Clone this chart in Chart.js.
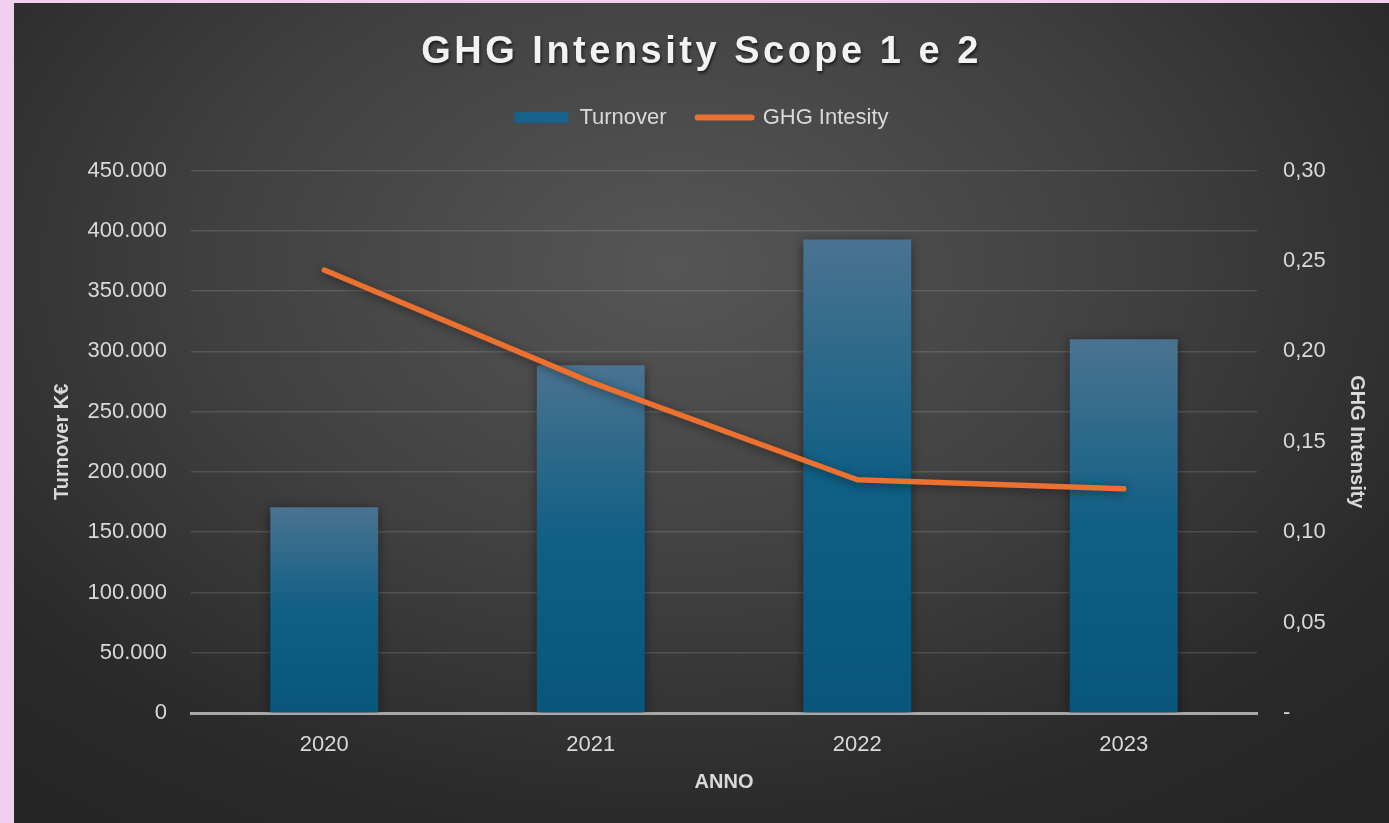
<!DOCTYPE html>
<html>
<head>
<meta charset="utf-8">
<script src="https://cdn.jsdelivr.net/npm/chart.js@4"></script>
<style>
    html, body { margin: 0; padding: 0; background: #f0d0ee; }
    #wrap {
        position: absolute; left: 14px; top: 3px; width: 1375px; height: 820px;
        background: radial-gradient(ellipse 75% 85% at 48% 32%, #565656 0%, #404040 45%, #2a2a2a 80%, #252525 100%);
    }
    canvas { display: block; }
</style>
</head>
<body>
<div id="wrap"><canvas id="chart" width="1375" height="820"></canvas></div>
<script>
const years = ['2020', '2021', '2022', '2023']
const turnover = [170700, 288500, 392800, 310000]
const ghgIntensity = [0.245, 0.183, 0.129, 0.124]

const leftTicks = [0, 50000, 100000, 150000, 200000, 250000, 300000, 350000, 400000, 450000]
const rightTicks = [0, 0.05, 0.10, 0.15, 0.20, 0.25, 0.30]

const LINE_COLOR = '#ec7030'
const TEXT_COLOR = '#d9d9d9'

Chart.defaults.font.family = "'Liberation Sans', Arial, sans-serif"
Chart.defaults.color = TEXT_COLOR

function barGradient(context) {
    const chart = context.chart
    const { chartArea, scales } = chart
    if (!chartArea || context.type !== 'data') return '#0b5b80'
    const top = scales.y.getPixelForValue(context.raw)
    const bottom = scales.y.getPixelForValue(0)
    const g = chart.ctx.createLinearGradient(0, top, 0, bottom)
    g.addColorStop(0, '#4a7390')
    g.addColorStop(0.5, '#105f85')
    g.addColorStop(1, '#08567c')
    return g
}

function thousands(v) {
    return String(v).replace(/\B(?=(\d{3})+(?!\d))/g, '.')
}

// title with letter spacing and a soft drop shadow
const titleStyle = {
    id: 'titleStyle',
    afterInit(chart) {
        const block = chart.titleBlock
        const draw = block.draw
        block.draw = function () {
            const ctx = this.ctx
            ctx.save()
            ctx.letterSpacing = '3.5px'
            ctx.shadowColor = 'rgba(0,0,0,0.65)'
            ctx.shadowOffsetX = 1
            ctx.shadowOffsetY = 2
            ctx.shadowBlur = 3
            draw.call(this)
            ctx.restore()
        }
    }
}

const markShadow = {
    id: 'markShadow',
    beforeDatasetDraw(chart) {
        const ctx = chart.ctx
        ctx.save()
        ctx.shadowColor = 'rgba(0,0,0,0.45)'
        ctx.shadowBlur = 10
        ctx.shadowOffsetY = 2
    },
    afterDatasetDraw(chart) {
        chart.ctx.restore()
    }
}

new Chart(document.getElementById('chart'), {
    data: {
        labels: years,
        datasets: [{
            type: 'bar',
            label: 'Turnover',
            data: turnover,
            backgroundColor: barGradient,
            yAxisID: 'y',
            order: 2,
            categoryPercentage: 1,
            barPercentage: 0.405
        }, {
            type: 'line',
            label: 'GHG Intesity',
            data: ghgIntensity,
            borderColor: LINE_COLOR,
            backgroundColor: LINE_COLOR,
            borderWidth: 5.5,
            borderCapStyle: 'round',
            borderJoinStyle: 'round',
            pointRadius: 0,
            tension: 0,
            yAxisID: 'y2',
            order: 1
        }]
    },
    options: {
        responsive: false,
        animation: false,
        layout: { padding: 0 },
        plugins: {
            tooltip: { enabled: false },
            title: {
                display: true,
                text: 'GHG Intensity Scope 1 e 2',
                color: '#f2f2f2',
                font: { size: 38, weight: 'bold' },
                padding: { top: 27, bottom: 0 }
            },
            subtitle: {
                display: true,
                text: '',
                weight: 900,
                font: { size: 10 },
                padding: { top: 0, bottom: 20 }
            },
            legend: {
                labels: {
                    usePointStyle: true,
                    pointStyleWidth: 54,
                    boxHeight: 11,
                    padding: 31,
                    color: TEXT_COLOR,
                    font: { size: 22 },
                    generateLabels: chart => chart.data.datasets.map((ds, i) => ({
                        text: ds.label,
                        datasetIndex: i,
                        fontColor: TEXT_COLOR,
                        fillStyle: ds.type === 'bar' ? '#17618a' : LINE_COLOR,
                        strokeStyle: ds.type === 'bar' ? '#17618a' : LINE_COLOR,
                        lineWidth: ds.type === 'bar' ? 0 : 6,
                        lineCap: 'round',
                        pointStyle: ds.type === 'bar' ? 'rect' : 'line'
                    }))
                }
            }
        },
        scales: {
            x: {
                z: 1,
                grid: { display: false, drawTicks: false },
                border: { display: true, color: '#a8a8a8', width: 3 },
                ticks: { padding: 19, font: { size: 22 }, color: TEXT_COLOR },
                title: {
                    display: true, text: 'ANNO', color: TEXT_COLOR,
                    font: { size: 20, weight: 'bold' },
                    padding: { top: 0, bottom: 29 }
                },
                afterFit: scale => { scale.height = 110 }
            },
            y: {
                position: 'left',
                min: 0,
                max: 450000,
                afterBuildTicks: scale => { scale.ticks = leftTicks.map(v => ({ value: v })) },
                grid: {
                    drawTicks: false,
                    color: ctx => ctx.tick && ctx.tick.value === 0 ? 'rgba(0,0,0,0)' : 'rgba(255,255,255,0.13)',
                    lineWidth: 1.5
                },
                border: { display: false },
                ticks: { padding: 24, font: { size: 22 }, color: TEXT_COLOR, callback: v => thousands(v) },
                title: {
                    display: true, text: 'Turnover K€', color: TEXT_COLOR,
                    font: { size: 20, weight: 'bold' },
                    padding: { top: 36, bottom: 0 }
                },
                afterFit: scale => { scale.width = 177 }
            },
            y2: {
                position: 'right',
                min: 0,
                max: 0.30,
                afterBuildTicks: scale => { scale.ticks = rightTicks.map(v => ({ value: v })) },
                grid: { display: false, drawTicks: false },
                border: { display: false },
                ticks: {
                    padding: 26, font: { size: 22 }, color: TEXT_COLOR,
                    callback: v => v === 0 ? '-' : v.toFixed(2).replace('.', ',')
                },
                title: {
                    display: true, text: 'GHG Intensity', color: TEXT_COLOR,
                    font: { size: 20, weight: 'bold' },
                    padding: { top: 20, bottom: 0 }
                },
                afterFit: scale => { scale.width = 132 }
            }
        }
    },
    plugins: [titleStyle, markShadow]
})
</script>
</body>
</html>
